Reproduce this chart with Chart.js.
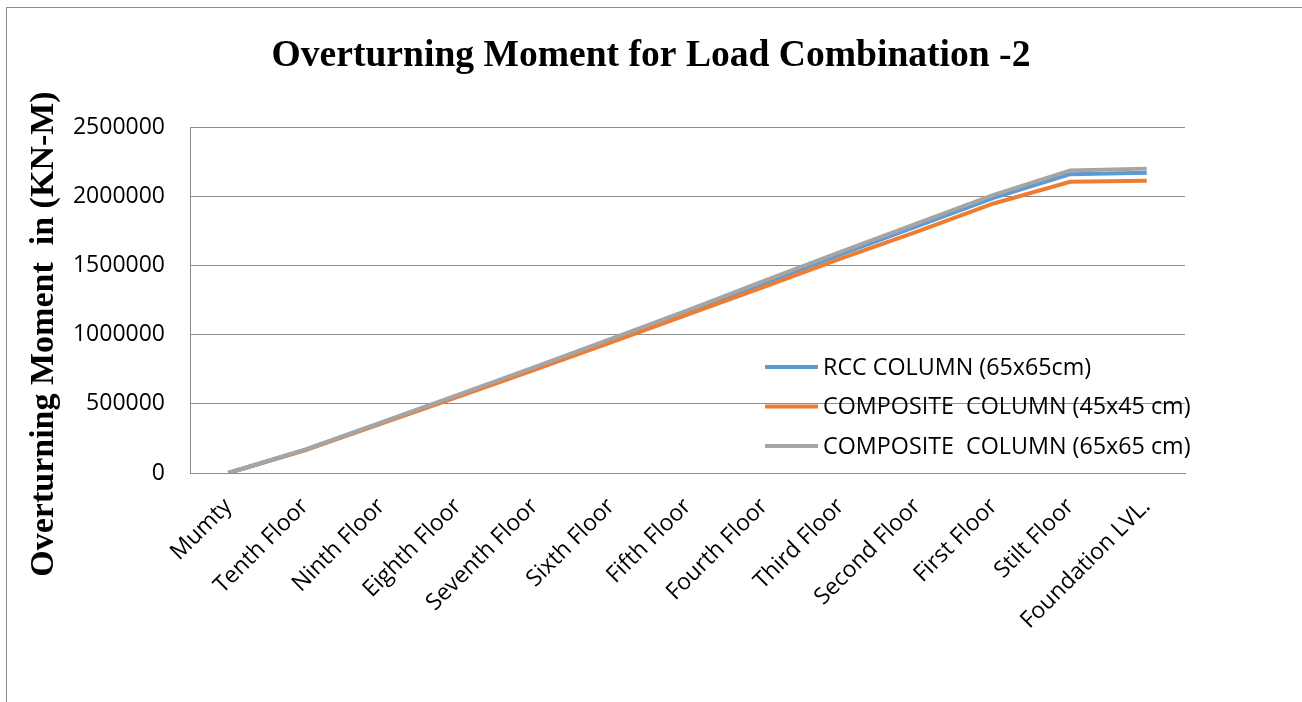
<!DOCTYPE html>
<html lang="en">
  <head>
    <meta charset="UTF-8" />
    <title>Overturning Moment for Load Combination -2</title>
    <script src="https://cdn.jsdelivr.net/npm/chart.js"></script>
    <style>
      html,
      body {
        margin: 0;
        padding: 0;
        background: #fff;
        overflow: hidden;
      }
      /* chart frame: only top and left edges fall inside the window */
      .frame {
        position: absolute;
        left: 6px;
        top: 7px;
        width: 1400px;
        height: 800px;
        border-top: 1px solid #8c8c8c;
        border-left: 1px solid #8c8c8c;
      }
      #wrap {
        position: absolute;
        left: 0;
        top: 0;
        width: 1302px;
        height: 702px;
      }
    </style>
  </head>
  <body>
    <div class="frame"></div>
    <div id="wrap"><canvas id="momentChart"></canvas></div>

    <script>
      const floors = [
        "Mumty",
        "Tenth Floor",
        "Ninth Floor",
        "Eighth Floor",
        "Seventh Floor",
        "Sixth Floor",
        "Fifth Floor",
        "Fourth Floor",
        "Third Floor",
        "Second Floor",
        "First Floor",
        "Stilt Floor",
        "Foundation LVL.",
      ];

      const rccColumn65 = [0, 166000, 362000, 560000, 758000, 962000, 1165000, 1372000, 1580000, 1785000, 1988000, 2160000, 2170000];
      const compositeColumn45 = [0, 164000, 357000, 550000, 745000, 945000, 1145000, 1345000, 1550000, 1745000, 1948000, 2105000, 2112000];
      const compositeColumn65 = [0, 168000, 365000, 565000, 765000, 970000, 1175000, 1388000, 1598000, 1805000, 2010000, 2186000, 2200000];

      const seriesLabels = [
        "RCC COLUMN (65x65cm)",
        "COMPOSITE  COLUMN (45x45 cm)",
        "COMPOSITE  COLUMN (65x65 cm)",
      ];
      const seriesColors = ["#5b9bd5", "#ed7d31", "#a5a5a5"];

      const yMin = 0;
      const yMax = 2500000;
      const yStep = 500000;

      const tickFont = { family: "'Open Sans', sans-serif", size: 23 };

      // rotated axis title, centred a bit lower than the plot like the original
      const yTitlePlugin = {
        id: "yTitle",
        afterDraw(chart) {
          const ctx = chart.ctx;
          ctx.save();
          ctx.translate(44, 334);
          ctx.rotate(-Math.PI / 2);
          ctx.font = "bold 34px 'Liberation Serif', serif";
          ctx.fillStyle = "#000";
          ctx.textAlign = "center";
          ctx.textBaseline = "middle";
          ctx.fillText("Overturning Moment  in (KN-M)", 0, 0);
          ctx.restore();
        },
      };

      // legend drawn inside the plot area, right side
      const insideLegend = {
        id: "insideLegend",
        afterDraw(chart) {
          const ctx = chart.ctx;
          const area = chart.chartArea;
          const x0 = area.right - 420;
          ctx.save();
          ctx.font = "23.3px 'Open Sans', sans-serif";
          ctx.textBaseline = "middle";
          ctx.fillStyle = "#000";
          chart.data.datasets.forEach((ds, i) => {
            const y = area.top + 240 + i * 39.5;
            ctx.strokeStyle = ds.borderColor;
            ctx.lineWidth = 4;
            ctx.beginPath();
            ctx.moveTo(x0, y);
            ctx.lineTo(x0 + 53, y);
            ctx.stroke();
            ctx.fillText(ds.label, x0 + 58, y + 1);
          });
          ctx.restore();
        },
      };

      const ctxMoment = document.getElementById("momentChart").getContext("2d");
      new Chart(ctxMoment, {
        type: "line",
        data: {
          labels: floors,
          datasets: [
            { label: seriesLabels[0], data: rccColumn65, borderColor: seriesColors[0], order: 2 },
            { label: seriesLabels[1], data: compositeColumn45, borderColor: seriesColors[1], order: 1 },
            { label: seriesLabels[2], data: compositeColumn65, borderColor: seriesColors[2], order: 0 },
          ].map((ds) => ({
            ...ds,
            backgroundColor: ds.borderColor,
            borderWidth: 4,
            pointRadius: 0,
            tension: 0,
            fill: false,
          })),
        },
        options: {
          responsive: true,
          maintainAspectRatio: false,
          animation: false,
          layout: { padding: 0 },
          plugins: {
            legend: { display: false },
            tooltip: { enabled: false },
            title: {
              display: true,
              text: "Overturning Moment for Load Combination -2",
              color: "#000",
              font: { family: "'Liberation Serif', 'Times New Roman', serif", size: 37.6, weight: "bold" },
              padding: { top: 34, bottom: 48 },
            },
          },
          scales: {
            x: {
              offset: true,
              grid: { display: false, drawTicks: false },
              border: { display: true, color: "#8c8c8c", width: 1 },
              ticks: {
                color: "#000",
                font: tickFont,
                autoSkip: false,
                minRotation: 45,
                maxRotation: 45,
                padding: 20,
              },
              afterFit(scale) {
                scale.height = 229;
              },
            },
            y: {
              min: yMin,
              max: yMax,
              grid: { color: "#8c8c8c", lineWidth: 1, drawTicks: false },
              border: { display: true, color: "#8c8c8c", width: 1 },
              ticks: {
                stepSize: yStep,
                color: "#000",
                font: tickFont,
                padding: 25,
                callback: (v) => String(v),
              },
              afterFit(scale) {
                scale.width = 190;
              },
            },
            // empty right-hand space, so the title stays centred on the full frame
            spacer: {
              type: "linear",
              position: "right",
              grid: { display: false, drawTicks: false },
              border: { display: false },
              ticks: { display: false },
              afterFit(scale) {
                scale.width = 117;
              },
            },
          },
        },
        plugins: [yTitlePlugin, insideLegend],
      });
    </script>
  </body>
</html>
